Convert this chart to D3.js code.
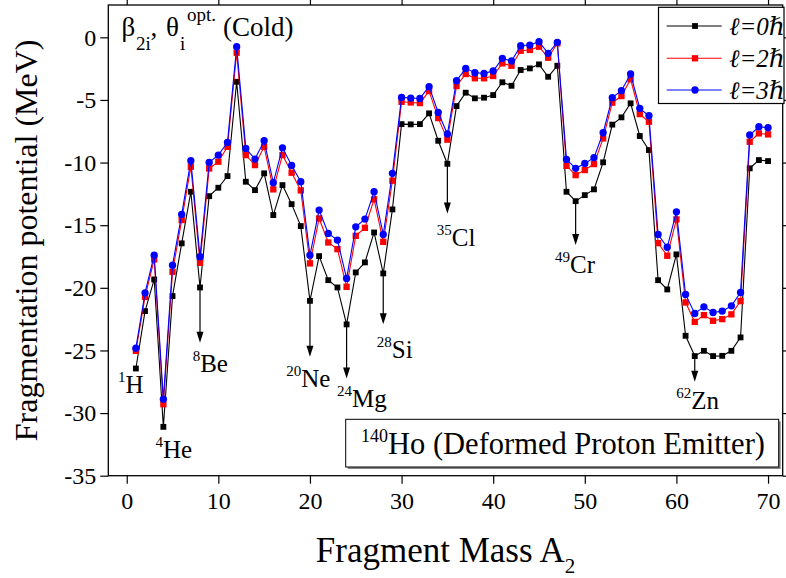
<!DOCTYPE html>
<html><head><meta charset="utf-8">
<script src="https://cdn.jsdelivr.net/npm/d3@7"></script>
<style>body{margin:0;background:#fff}svg{display:block}text{font-family:"Liberation Serif","DejaVu Serif",serif}</style>
</head><body><svg id="c" width="786" height="578"></svg>
<script>
const masses = d3.range(1, 71);
const l0 = [-26.44,-21.86,-19.33,-31.1,-20.66,-16.45,-12.33,-19.97,-12.68,-12.01,-11.08,-3.55,-11.53,-12.2,-10.86,-14.19,-11.8,-13.32,-15.07,-21.04,-17.47,-19.39,-19.97,-22.92,-18.77,-17.97,-15.58,-18.85,-13.74,-6.93,-6.95,-6.93,-6.07,-8.26,-10.1,-5.49,-4.42,-4.87,-4.82,-4.61,-3.59,-3.87,-2.61,-2.48,-2.16,-3.15,-2.27,-12.33,-13.08,-12.6,-12.14,-9.98,-6.97,-6.39,-5.27,-7.88,-9.0,-19.39,-20.13,-17.33,-23.83,-25.45,-25.03,-25.45,-25.43,-25.03,-23.96,-10.46,-9.8,-9.88];
const l2 = [-25.03,-20.72,-17.73,-29.29,-18.72,-14.59,-10.33,-18.0,-10.47,-9.93,-8.74,-1.23,-9.4,-10.2,-8.74,-12.14,-9.4,-10.81,-12.22,-18.05,-14.46,-16.38,-16.91,-19.92,-15.85,-15.21,-12.94,-16.33,-11.45,-5.15,-5.2,-5.25,-4.29,-6.45,-8.17,-3.89,-2.93,-3.27,-3.27,-3.09,-2.08,-2.27,-1.07,-1.01,-0.75,-1.63,-0.48,-10.26,-11.0,-10.6,-10.12,-8.07,-5.22,-4.69,-3.35,-6.13,-6.74,-16.43,-17.44,-14.54,-21.17,-22.72,-22.18,-22.63,-22.5,-22.12,-21.06,-8.34,-7.67,-7.75];
const l3 = [-24.82,-20.4,-17.39,-28.89,-18.19,-14.14,-9.85,-17.52,-9.99,-9.4,-8.39,-0.75,-8.87,-9.72,-8.26,-11.61,-8.82,-10.23,-11.53,-17.39,-13.79,-15.66,-16.19,-19.25,-15.13,-14.51,-12.33,-15.74,-10.86,-4.8,-4.85,-4.88,-3.94,-6.0,-7.72,-3.47,-2.48,-2.83,-2.88,-2.69,-1.68,-1.89,-0.67,-0.62,-0.35,-1.28,-0.4,-9.75,-10.46,-10.07,-9.61,-7.62,-4.82,-4.26,-2.93,-5.67,-6.26,-15.74,-16.76,-13.93,-20.53,-22.05,-21.52,-21.97,-21.86,-21.44,-20.37,-7.8,-7.14,-7.22];
const seriesNames = ["ℓ=0ℏ","ℓ=2ℏ","ℓ=3ℏ"];
const xTicks = [0,10,20,30,40,50,60,70];
const yTicks = [0,-5,-10,-15,-20,-25,-30,-35];
// fragment annotations: mass number, symbol, arrow tip value, label anchor (data units)
const fragA    = [1, 4, 8, 20, 24, 28, 35, 49, 62];
const fragSym  = ["H","He","Be","Ne","Mg","Si","Cl","Cr","Zn"];
const fragTip  = [null, null, -24.39, -25.51, -27.24, -22.9, -14.06, -16.59, -27.5];
const fragLX   = [-0.95, 3.14, 7.2, 17.4, 22.96, 27.29, 33.84, 46.76, 59.97];
const fragLY   = [-28.41, -33.6, -26.71, -27.9, -29.5, -25.64, -16.64, -18.8, -29.71];

const svg = d3.select("#c");
const L = 108.3, R = 782.7, T = 5, B = 475.7;
const x = d3.scaleLinear().domain([-2.01, 71.6]).range([L, R]);
const y = d3.scaleLinear().domain([2.58, -35]).range([T, B]);

// frame
svg.append("rect").attr("x", L).attr("y", T).attr("width", R - L).attr("height", B - T)
  .attr("fill", "none").attr("stroke", "#000").attr("stroke-width", 1.3);

const gx = svg.append("g").attr("transform", `translate(0,${B})`)
  .call(d3.axisBottom(x).tickValues(xTicks).tickSize(8).tickPadding(8));
const gxt = svg.append("g").attr("transform", `translate(0,${T})`)
  .call(d3.axisTop(x).tickValues(xTicks).tickSize(5).tickFormat(""));
const gy = svg.append("g").attr("transform", `translate(${L},0)`)
  .call(d3.axisLeft(y).tickValues(yTicks).tickSize(8).tickPadding(4).tickFormat(d => d === 0 ? "0" : "-" + Math.abs(d)));
const gyr = svg.append("g").attr("transform", `translate(${R},0)`)
  .call(d3.axisRight(y).tickValues(yTicks).tickSize(5).tickFormat(""));
[gx, gxt, gy, gyr].forEach(g => {
  g.select(".domain").remove();
  g.selectAll("line").attr("stroke", "#000").attr("stroke-width", 1.2);
  g.selectAll("text").attr("font-size", 24).attr("fill", "#000").attr("font-family", "Liberation Serif");
});

// axis titles
svg.append("text").attr("transform", `translate(37,${(T + B) / 2}) rotate(-90)`)
  .attr("text-anchor", "middle").attr("font-size", 32).text("Fragmentation potential (MeV)");
const xt = svg.append("text").attr("x", (L + R) / 2).attr("y", 562).attr("text-anchor", "middle").attr("font-size", 35);
xt.append("tspan").text("Fragment Mass A");
xt.append("tspan").attr("dy", 11).attr("font-size", 21).text("2");

// series
const series = [
  {name: seriesNames[0], vals: l0, color: "#000000", sym: d3.symbolSquare, size: 34},
  {name: seriesNames[1], vals: l2, color: "#ff0000", sym: d3.symbolSquare, size: 40},
  {name: seriesNames[2], vals: l3, color: "#0000ff", sym: d3.symbolCircle, size: 42}
];
const line = d3.line().x((d, i) => x(masses[i])).y(d => y(d));

// arrows (drawn under markers)
const arrowG = svg.append("g");
fragA.forEach((a, k) => {
  if (fragTip[k] === null) return;
  const v0 = l0[masses.indexOf(a)];
  const px = x(a);
  arrowG.append("line").attr("x1", px).attr("x2", px).attr("y1", y(v0)).attr("y2", y(fragTip[k]) - 8)
    .attr("stroke", "#000").attr("stroke-width", 1.2);
  const ty = y(fragTip[k]);
  arrowG.append("path").attr("d", `M${px - 3.5},${ty - 11}L${px + 3.5},${ty - 11}L${px},${ty}Z`).attr("fill", "#000");
});

series.forEach(s => {
  svg.append("path").datum(s.vals).attr("d", line).attr("fill", "none")
    .attr("stroke", s.color).attr("stroke-width", 1.1);
  svg.append("g").selectAll("path").data(s.vals).join("path")
    .attr("transform", (d, i) => `translate(${x(masses[i])},${y(d)})`)
    .attr("d", d3.symbol().type(s.sym).size(s.size)).attr("fill", s.color);
});

// fragment labels
fragA.forEach((a, k) => {
  const t = svg.append("text").attr("x", x(fragLX[k])).attr("y", y(fragLY[k])).attr("font-size", 25);
  t.append("tspan").attr("font-size", 15).attr("dy", -11).text(String(a));
  t.append("tspan").attr("dy", 11).text(fragSym[k]);
});

// title label
const tl = svg.append("text").attr("font-size", 27);
tl.append("tspan").attr("x", 121.5).attr("y", 36).text("β");
tl.append("tspan").attr("x", 136).attr("y", 49.5).attr("font-size", 19).text("2i");
tl.append("tspan").attr("x", 150.5).attr("y", 36).text(",");
tl.append("tspan").attr("x", 166).attr("y", 36).text("θ");
tl.append("tspan").attr("x", 180).attr("y", 49.5).attr("font-size", 19).text("i");
tl.append("tspan").attr("x", 187).attr("y", 21).attr("font-size", 19).text("opt.");
tl.append("tspan").attr("x", 223).attr("y", 36).text("(Cold)");

// legend
const lg = svg.append("g");
lg.append("rect").attr("x", 658.5).attr("y", 7.3).attr("width", 784 - 658.5).attr("height", 96.2)
  .attr("fill", "#fff").attr("stroke", "#000").attr("stroke-width", 1.2);
const rowY = [26, 58.3, 90];
series.forEach((s, i) => {
  lg.append("line").attr("x1", 666.7).attr("x2", 721.7).attr("y1", rowY[i]).attr("y2", rowY[i])
    .attr("stroke", s.color).attr("stroke-width", 1.1);
  lg.append("path").attr("transform", `translate(695,${rowY[i]})`)
    .attr("d", d3.symbol().type(s.sym).size(s.size)).attr("fill", s.color);
  lg.append("text").attr("x", 729).attr("y", rowY[i] + 9).attr("font-size", 25).attr("font-style", "italic").text(s.name);
});

// info box
svg.append("rect").attr("x", 347.7).attr("y", 421.3).attr("width", 433).attr("height", 47.7).attr("fill", "#888");
svg.append("rect").attr("x", 345.7).attr("y", 419.3).attr("width", 433).attr("height", 47.7)
  .attr("fill", "#fff").attr("stroke", "#000").attr("stroke-width", 1);
const bt = svg.append("text").attr("x", 563).attr("y", 454).attr("text-anchor", "middle").attr("font-size", 30.5);
bt.append("tspan").attr("font-size", 18).attr("dy", -12).text("140");
bt.append("tspan").attr("dy", 12).text("Ho (Deformed Proton Emitter)");
</script></body></html>
